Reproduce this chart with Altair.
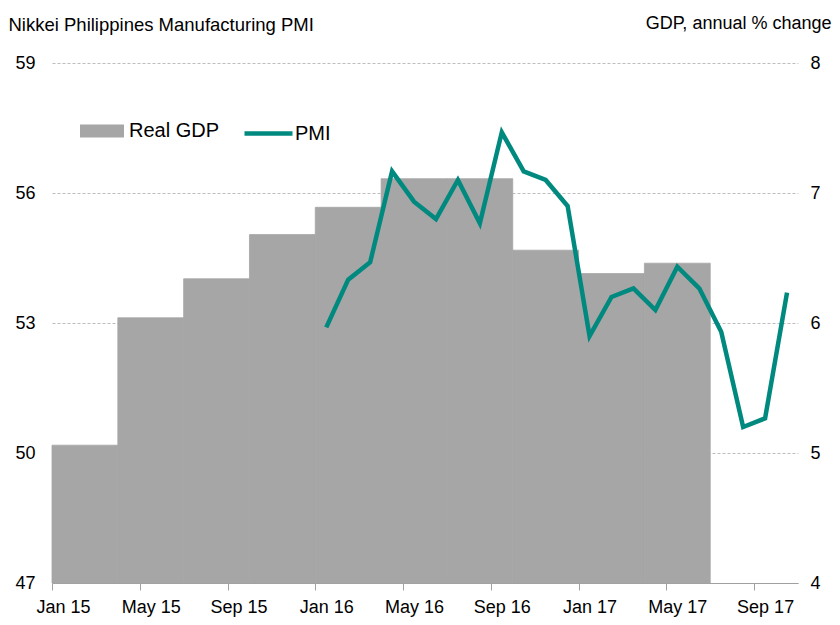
import altair as alt
import pandas as pd

# ---- data ----
gdp_quarters = ["2015Q1", "2015Q2", "2015Q3", "2015Q4", "2016Q1",
                "2016Q2", "2016Q3", "2016Q4", "2017Q1", "2017Q2"]
gdp_values = [5.06, 6.04, 6.34, 6.68, 6.89, 7.11, 7.11, 6.56, 6.38, 6.46]

pmi_months = ["2016-01", "2016-02", "2016-03", "2016-04", "2016-05", "2016-06",
              "2016-07", "2016-08", "2016-09", "2016-10", "2016-11", "2016-12",
              "2017-01", "2017-02", "2017-03", "2017-04", "2017-05", "2017-06",
              "2017-07", "2017-08", "2017-09", "2017-10"]
pmi_values = [52.9, 54.0, 54.4, 56.5, 55.8, 55.4, 56.3, 55.3, 57.4, 56.5, 56.3, 55.7,
              52.7, 53.6, 53.8, 53.3, 54.3, 53.8, 52.8, 50.6, 50.8, 53.7]

x_tick_labels = ["Jan 15", "May 15", "Sep 15", "Jan 16", "May 16",
                 "Sep 16", "Jan 17", "May 17", "Sep 17"]
pmi_ticks = [47, 50, 53, 56, 59]
gdp_ticks = [4, 5, 6, 7, 8]

FONT = "Liberation Sans, Arial, sans-serif"
GREY = "#A6A6A6"
TEAL = "#00897F"

# month index counted from Jan 2015
def q_index(q):
    return (int(q[:4]) - 2015) * 12 + (int(q[-1]) - 1) * 3

def m_index(m):
    return (int(m[:4]) - 2015) * 12 + int(m[5:]) - 1

gdp_df = pd.DataFrame({
    "quarter": gdp_quarters,
    "gdp": gdp_values,
    "start": [q_index(q) for q in gdp_quarters],
    "series": "Real GDP",
})
gdp_df["end"] = gdp_df["start"] + 3

pmi_df = pd.DataFrame({
    "month": pmi_months,
    "pmi": pmi_values,
    "pos": [m_index(m) + 0.5 for m in pmi_months],
    "series": "PMI",
})

label_expr = "[" + ",".join(f"'{s}'" for s in x_tick_labels) + "][round(datum.value / 4)]"

x_axis = alt.Axis(
    values=[i * 4 for i in range(len(x_tick_labels))],
    labelExpr=label_expr, labelOverlap=False, labelFlush=False,
    title=None, grid=False,
    domainColor="#A0A0A0", tickColor="#A0A0A0", tickSize=7, tickWidth=1,
    labelOffset=11, labelPadding=8,
    labelFont=FONT, labelFontSize=18, labelColor="#000000",
)
x_scale = alt.Scale(domain=[0, 34], nice=False, zero=False)

bars = alt.Chart(gdp_df).mark_rect(stroke=GREY, strokeWidth=0.8).encode(
    x=alt.X("start:Q", scale=x_scale, axis=x_axis),
    x2="end:Q",
    y=alt.Y("gdp:Q",
            scale=alt.Scale(domain=[4, 8], nice=False, zero=False),
            axis=alt.Axis(orient="right", values=gdp_ticks, grid=False, domain=False,
                          ticks=False, labelPadding=12,
                          labelFont=FONT, labelFontSize=18, labelColor="#000000",
                          title="GDP, annual % change", titleAngle=0, titleAlign="right",
                          titleBaseline="alphabetic", titleX=33, titleY=-35,
                          titleFont=FONT, titleFontSize=18, titleFontWeight="normal",
                          titleColor="#000000")),
    y2=alt.datum(4),
    fill=alt.Fill("series:N",
                  scale=alt.Scale(domain=["Real GDP"], range=[GREY]),
                  legend=alt.Legend(title=None, orient="none", legendX=28, legendY=46,
                                    symbolType="M-1,-0.29H1V0.29H-1Z", symbolSize=1936,
                                    symbolStrokeWidth=0, symbolOpacity=1,
                                    padding=0, labelOffset=5,
                                    labelFont=FONT, labelFontSize=20,
                                    labelColor="#000000")),
)

line = alt.Chart(pmi_df).mark_line(strokeWidth=4.5).encode(
    x=alt.X("pos:Q", scale=x_scale, axis=x_axis),
    y=alt.Y("pmi:Q",
            scale=alt.Scale(domain=[47, 59], nice=False, zero=False),
            axis=alt.Axis(orient="left", values=pmi_ticks, grid=True,
                          gridColor="#BDBDBD", gridDash=[3, 2], gridWidth=1,
                          domain=False, ticks=False, labelPadding=17,
                          labelFont=FONT, labelFontSize=18, labelColor="#000000",
                          title="Nikkei Philippines Manufacturing PMI", titleAngle=0,
                          titleAlign="left", titleBaseline="alphabetic",
                          titleX=-44, titleY=-33,
                          titleFont=FONT, titleFontSize=18.5, titleFontWeight="normal",
                          titleColor="#000000")),
    stroke=alt.Stroke("series:N",
                      scale=alt.Scale(domain=["PMI"], range=[TEAL]),
                      legend=alt.Legend(title=None, orient="none", legendX=190, legendY=44,
                                        symbolType="stroke", symbolSize=2304,
                                        symbolStrokeWidth=4.5, padding=0, labelOffset=0,
                                        labelFont=FONT, labelFontSize=20,
                                        labelColor="#000000")),
)

chart = alt.layer(bars, line).resolve_scale(
    y="independent", fill="independent", stroke="independent"
).properties(
    width=746, height=520,
    background="white",
    autosize=alt.AutoSizeParams(type="none"),
    padding={"left": 44, "top": 55, "right": 34, "bottom": 40},
).configure_view(
    stroke=None, strokeWidth=0
)

chart.save("out.html", embed_options={"renderer": "svg", "actions": False})
